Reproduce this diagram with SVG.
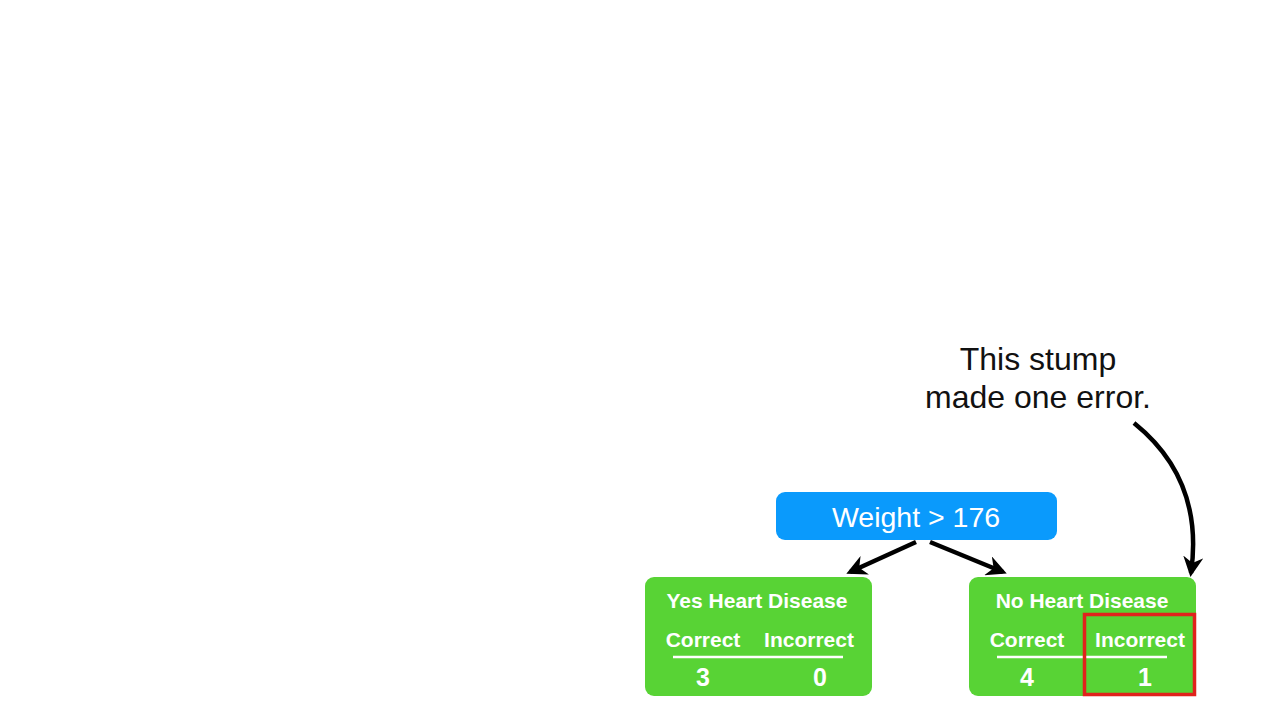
<svg xmlns="http://www.w3.org/2000/svg" width="1280" height="720" viewBox="0 0 1280 720">
<defs>
<style>
.leaf{fill:#58d335}
.wt{fill:#fff;font-family:"Liberation Sans",Arial,sans-serif;font-weight:bold;text-anchor:middle}
.ann{fill:#111;font-family:"Liberation Sans",Arial,sans-serif;font-size:32px;text-anchor:middle}
.conn{stroke:#000;stroke-width:4.5;fill:none}
</style>
<marker id="ah" viewBox="0 0 10 10" refX="8" refY="5" markerWidth="4.5" markerHeight="4.5" orient="auto" markerUnits="strokeWidth">
<path d="M0,0 L10,5 L0,10 L3,5 Z" fill="#000"/>
</marker>
</defs>
<rect width="1280" height="720" fill="#fff"/>
<g id="annotation">
<text class="ann" x="1038" y="370">This stump</text>
<text class="ann" x="1038" y="408">made one error.</text>
</g>
<g id="connectors">
<line class="conn" x1="916" y1="542" x2="850" y2="572" marker-end="url(#ah)"/>
<line class="conn" x1="930" y1="542" x2="1003" y2="572" marker-end="url(#ah)"/>
<path class="conn" d="M1134,423 C1180,460 1200,510 1191,573" marker-end="url(#ah)"/>
</g>
<g id="root">
<rect x="776" y="492" width="281" height="48" rx="9" fill="#0a9afc"/>
<text class="wt" x="916" y="527" font-size="28.5" style="font-weight:normal">Weight &gt; 176</text>
</g>
<g id="leaf-yes">
<rect class="leaf" x="645" y="577" width="227" height="119" rx="9"/>
<text class="wt" x="757" y="608" font-size="21">Yes Heart Disease</text>
<text class="wt" x="703" y="647" font-size="21">Correct</text>
<text class="wt" x="809" y="647" font-size="21">Incorrect</text>
<line x1="673" y1="657" x2="843" y2="657" stroke="#fff" stroke-width="2.5"/>
<text class="wt" x="703" y="686" font-size="25">3</text>
<text class="wt" x="820" y="686" font-size="25">0</text>
</g>
<g id="leaf-no">
<rect class="leaf" x="969" y="577" width="227" height="119" rx="9"/>
<text class="wt" x="1082" y="608" font-size="21">No Heart Disease</text>
<text class="wt" x="1027" y="647" font-size="21">Correct</text>
<text class="wt" x="1140" y="647" font-size="21">Incorrect</text>
<line x1="997" y1="657" x2="1167" y2="657" stroke="#fff" stroke-width="2.5"/>
<text class="wt" x="1027" y="686" font-size="25">4</text>
<text class="wt" x="1145" y="686" font-size="25">1</text>
<rect x="1084.5" y="614.5" width="110" height="80" fill="none" stroke="#e0231c" stroke-width="3.5"/>
</g>
</svg>
